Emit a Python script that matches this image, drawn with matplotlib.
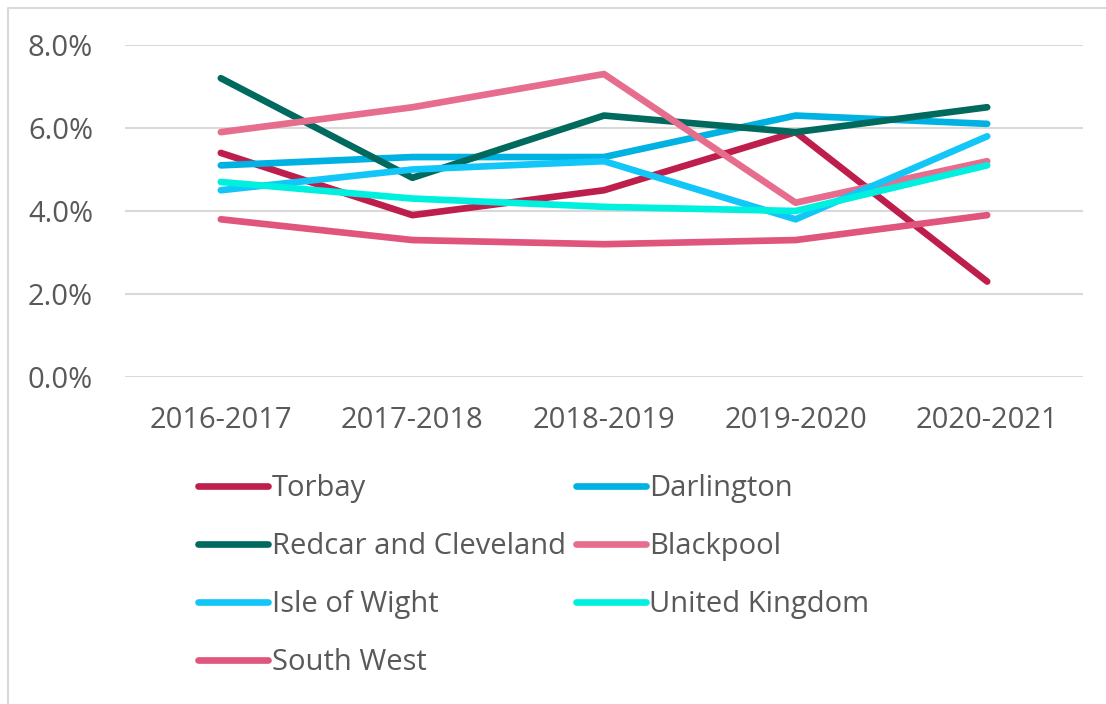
import matplotlib
matplotlib.use("Agg")
import matplotlib.pyplot as plt
from matplotlib.lines import Line2D
from matplotlib.ticker import FuncFormatter

plt.rcParams["font.family"] = ["Open Sans", "DejaVu Sans"]

years = ["2016-2017", "2017-2018", "2018-2019", "2019-2020", "2020-2021"]

torbay = [5.4, 3.9, 4.5, 5.9, 2.3]
darlington = [5.1, 5.3, 5.3, 6.3, 6.1]
redcar = [7.2, 4.8, 6.3, 5.9, 6.5]
blackpool = [5.9, 6.5, 7.3, 4.2, 5.2]
isle_of_wight = [4.5, 5.0, 5.2, 3.8, 5.8]
united_kingdom = [4.7, 4.3, 4.1, 4.0, 5.1]
south_west = [3.8, 3.3, 3.2, 3.3, 3.9]

series = [
    ("Torbay", torbay, "#BE1E4B"),
    ("Darlington", darlington, "#00B2E2"),
    ("Redcar and Cleveland", redcar, "#006A5F"),
    ("Blackpool", blackpool, "#E66D8E"),
    ("Isle of Wight", isle_of_wight, "#12C6F8"),
    ("United Kingdom", united_kingdom, "#00F0E0"),
    ("South West", south_west, "#E0557B"),
]

fig = plt.figure(figsize=(11.06, 7.04), dpi=100)
ax = fig.add_axes([125 / 1106, 1 - 377 / 704, (1083 - 125) / 1106, (377 - 45) / 704])

x = list(range(len(years)))
handles = {}
for name, vals, color in series:
    (ln,) = ax.plot(x, vals, color=color, lw=4.8, solid_capstyle="round",
                    solid_joinstyle="round", label=name)
    handles[name] = ln

ax.set_xlim(-0.5, len(years) - 0.5)
ax.set_ylim(0, 8)
ax.set_yticks([0, 2, 4, 6, 8])
ax.yaxis.set_major_formatter(FuncFormatter(lambda v, p: f"{v:.1f}%"))
ax.set_xticks(x)
ax.set_xticklabels(years)
ax.grid(axis="y", color="#D9D9D9", lw=1.5)
ax.set_axisbelow(True)
for s in ax.spines.values():
    s.set_visible(False)
ax.tick_params(axis="both", length=0, labelsize=21, colors="#595959")
ax.tick_params(axis="y", pad=23)
ax.tick_params(axis="x", pad=21)

# legend: column-first fill, so reorder to read row by row like the original
order = ["Torbay", "Redcar and Cleveland", "Isle of Wight", "South West",
         "Darlington", "Blackpool", "United Kingdom"]
leg = fig.legend([handles[n] for n in order], order, loc="upper left",
                 bbox_to_anchor=(198 / 1106, 1 - 474 / 704), ncol=2,
                 frameon=False, fontsize=21, handlelength=2.4, handletextpad=0.12,
                 columnspacing=0.35, labelspacing=1.0, borderpad=0, borderaxespad=0)
for t in leg.get_texts():
    t.set_color("#595959")

# light frame around the chart area
fig.add_artist(Line2D([8 / 1106, 8 / 1106, 1], [0, 1 - 8 / 704, 1 - 8 / 704],
                      transform=fig.transFigure, color="#D9D9D9", lw=1.5))

fig.savefig("out.png", dpi=100)
